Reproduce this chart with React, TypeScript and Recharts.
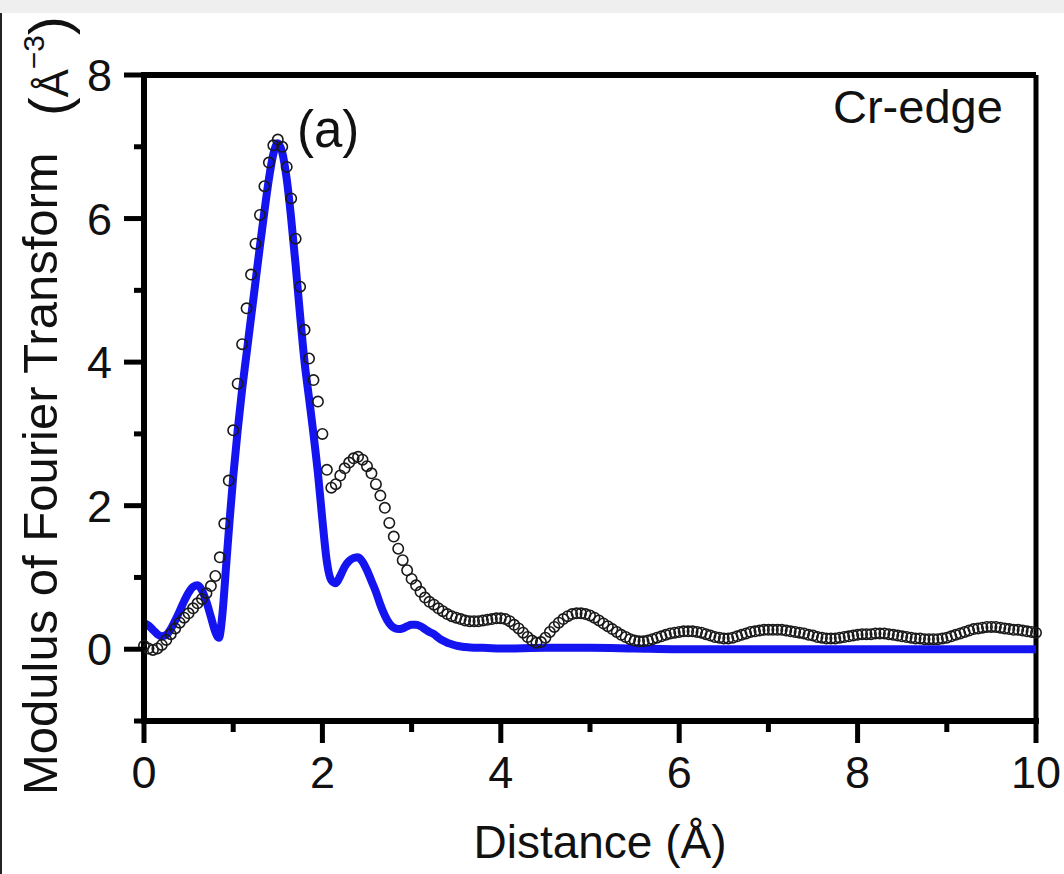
import React from 'react';
import { ComposedChart, Line, XAxis, YAxis, ReferenceLine } from 'recharts';

const FONT = "'Liberation Sans', Arial, Helvetica, sans-serif";

// Experimental |FT| (open circles), sampled every 0.05 Å
const distance = [
  0.0, 0.05, 0.1, 0.15, 0.2, 0.25, 0.3, 0.35, 0.4, 0.45,
  0.5, 0.55, 0.6, 0.65, 0.7, 0.75, 0.8, 0.85, 0.9, 0.95,
  1.0, 1.05, 1.1, 1.15, 1.2, 1.25, 1.3, 1.35, 1.4, 1.45,
  1.5, 1.55, 1.6, 1.65, 1.7, 1.75, 1.8, 1.85, 1.9, 1.95,
  2.0, 2.05, 2.1, 2.15, 2.2, 2.25, 2.3, 2.35, 2.4, 2.45,
  2.5, 2.55, 2.6, 2.65, 2.7, 2.75, 2.8, 2.85, 2.9, 2.95,
  3.0, 3.05, 3.1, 3.15, 3.2, 3.25, 3.3, 3.35, 3.4, 3.45,
  3.5, 3.55, 3.6, 3.65, 3.7, 3.75, 3.8, 3.85, 3.9, 3.95,
  4.0, 4.05, 4.1, 4.15, 4.2, 4.25, 4.3, 4.35, 4.4, 4.45,
  4.5, 4.55, 4.6, 4.65, 4.7, 4.75, 4.8, 4.85, 4.9, 4.95,
  5.0, 5.05, 5.1, 5.15, 5.2, 5.25, 5.3, 5.35, 5.4, 5.45,
  5.5, 5.55, 5.6, 5.65, 5.7, 5.75, 5.8, 5.85, 5.9, 5.95,
  6.0, 6.05, 6.1, 6.15, 6.2, 6.25, 6.3, 6.35, 6.4, 6.45,
  6.5, 6.55, 6.6, 6.65, 6.7, 6.75, 6.8, 6.85, 6.9, 6.95,
  7.0, 7.05, 7.1, 7.15, 7.2, 7.25, 7.3, 7.35, 7.4, 7.45,
  7.5, 7.55, 7.6, 7.65, 7.7, 7.75, 7.8, 7.85, 7.9, 7.95,
  8.0, 8.05, 8.1, 8.15, 8.2, 8.25, 8.3, 8.35, 8.4, 8.45,
  8.5, 8.55, 8.6, 8.65, 8.7, 8.75, 8.8, 8.85, 8.9, 8.95,
  9.0, 9.05, 9.1, 9.15, 9.2, 9.25, 9.3, 9.35, 9.4, 9.45,
  9.5, 9.55, 9.6, 9.65, 9.7, 9.75, 9.8, 9.85, 9.9, 9.95,
  10.0,
];

const experiment = [
  0.05, 0.01, -0.01, 0.01, 0.06, 0.13, 0.21, 0.29, 0.37, 0.44,
  0.5, 0.57, 0.64, 0.7, 0.78, 0.88, 1.02, 1.28, 1.75, 2.35,
  3.05, 3.7, 4.25, 4.75, 5.22, 5.65, 6.05, 6.45, 6.78, 7.02,
  7.1, 7.0, 6.72, 6.28, 5.72, 5.05, 4.45, 4.05, 3.75, 3.45,
  3.0, 2.5, 2.25, 2.3, 2.42, 2.52, 2.6, 2.66, 2.68, 2.64,
  2.55, 2.45, 2.3, 2.14, 1.97, 1.76, 1.57, 1.4, 1.24, 1.1,
  0.98, 0.89, 0.8, 0.72, 0.66, 0.62, 0.57, 0.53, 0.49, 0.46,
  0.44, 0.42, 0.4, 0.39, 0.39, 0.39, 0.4, 0.41, 0.42, 0.43,
  0.43, 0.42, 0.39, 0.34, 0.29, 0.23, 0.17, 0.12, 0.09, 0.1,
  0.16, 0.24, 0.31, 0.37, 0.42, 0.46, 0.49, 0.5, 0.5, 0.49,
  0.47, 0.44, 0.4, 0.36, 0.32, 0.28, 0.24, 0.2, 0.17, 0.14,
  0.12, 0.11, 0.11, 0.12, 0.14, 0.16, 0.18, 0.2, 0.22, 0.23,
  0.24, 0.25, 0.25, 0.25, 0.24, 0.23, 0.21, 0.19, 0.17, 0.16,
  0.15, 0.15, 0.16, 0.18, 0.2, 0.22, 0.24, 0.25, 0.26, 0.27,
  0.27, 0.27, 0.27, 0.27, 0.26, 0.25, 0.24, 0.23, 0.22, 0.2,
  0.19, 0.17, 0.16, 0.15, 0.15, 0.15, 0.16, 0.17, 0.18, 0.19,
  0.2, 0.21, 0.21, 0.21, 0.22, 0.22, 0.22, 0.21, 0.2, 0.19,
  0.18, 0.17, 0.16, 0.15, 0.15, 0.14, 0.14, 0.14, 0.14, 0.15,
  0.16, 0.18, 0.2, 0.22, 0.24, 0.26, 0.28, 0.29, 0.3, 0.31,
  0.31, 0.31, 0.3, 0.29, 0.28, 0.27, 0.27, 0.26, 0.25, 0.24,
  0.23,
];

// Fit (blue line)
const fitDistance = [
  0.0, 0.05, 0.1, 0.15, 0.2, 0.25, 0.3, 0.35, 0.4, 0.45,
  0.5, 0.55, 0.6, 0.65, 0.7, 0.75, 0.8, 0.84, 0.88, 0.92,
  0.96, 1.0, 1.05, 1.1, 1.15, 1.2, 1.25, 1.3, 1.35, 1.4,
  1.45, 1.5, 1.55, 1.6, 1.65, 1.7, 1.75, 1.8, 1.85, 1.9,
  1.95, 2.0, 2.05, 2.1, 2.15, 2.2, 2.25, 2.3, 2.35, 2.4,
  2.45, 2.5, 2.55, 2.6, 2.65, 2.7, 2.75, 2.8, 2.85, 2.9,
  2.95, 3.0, 3.05, 3.1, 3.15, 3.2, 3.25, 3.3, 3.35, 3.4,
  3.45, 3.5, 3.6, 3.7, 3.8, 4.0, 4.5, 5.0, 5.5, 6.0,
  7.0, 8.0, 9.0, 10.0,
];

const fitValues = [
  0.36, 0.33, 0.27, 0.21, 0.18, 0.2, 0.28, 0.4, 0.53, 0.67,
  0.79, 0.87, 0.89, 0.82, 0.66, 0.45, 0.24, 0.16, 0.5, 1.15,
  1.8, 2.4, 3.05, 3.62, 4.12, 4.62, 5.12, 5.62, 6.1, 6.55,
  6.9, 7.05, 6.92, 6.55, 6.0, 5.35, 4.65, 4.0, 3.5, 3.0,
  2.45, 1.8, 1.22, 0.96, 0.92, 1.02, 1.15, 1.23, 1.27, 1.28,
  1.22, 1.1, 0.95, 0.8, 0.62, 0.47, 0.36, 0.3, 0.28, 0.29,
  0.32, 0.34, 0.34, 0.32, 0.28, 0.24, 0.21, 0.16, 0.12, 0.09,
  0.07, 0.05, 0.03, 0.02, 0.02, 0.01, 0.02, 0.02, 0.01, 0.0,
  0.0, 0.0, 0.0, 0.0,
];

const xTicks = [0, 1, 2, 3, 4, 5, 6, 7, 8, 9, 10];
const xLabelTicks = [0, 2, 4, 6, 8, 10];
const yTicks = [-1, 0, 1, 2, 3, 4, 5, 6, 7, 8];
const yLabelTicks = [0, 2, 4, 6, 8];

const expData = distance.map((r, i) => ({ r, exp: experiment[i] }));
const fitData = fitDistance.map((r, i) => ({ r, fit: fitValues[i] }));

const XTick = (props: any) => {
  const { x, y, payload } = props;
  const major = xLabelTicks.includes(payload.value);
  return (
    <g>
      <line x1={x} x2={x} y1={y} y2={y + (major ? 22 : 11)} stroke="#000" strokeWidth={5} />
      {major && (
        <text x={x} y={y + 67} textAnchor="middle" fontSize={45} fontFamily={FONT} fill="#111">
          {payload.value}
        </text>
      )}
    </g>
  );
};

const YTick = (props: any) => {
  const { x, y, payload } = props;
  const major = yLabelTicks.includes(payload.value);
  return (
    <g>
      <line x1={x} x2={x - (major ? 20 : 10)} y1={y} y2={y} stroke="#000" strokeWidth={5} />
      {major && (
        <text x={x - 32} y={y} dy="0.36em" textAnchor="end" fontSize={45} fontFamily={FONT} fill="#111">
          {payload.value}
        </text>
      )}
    </g>
  );
};

export default function App() {
  return (
    <div style={{ position: 'absolute', left: 0, top: 0, width: 1064, height: 874, background: '#fff', overflow: 'hidden' }}>
      <div style={{ position: 'absolute', left: 0, top: 0, width: 1064, height: 13, background: '#efefef' }} />
      <div style={{ position: 'absolute', left: 0, top: 13, width: 2, height: 861, background: '#222' }} />
      <div style={{ position: 'absolute', left: 0, top: 0 }}>
        <ComposedChart width={1064} height={874} margin={{ top: 75, right: 28, bottom: 53, left: 0 }}>
          <XAxis
            dataKey="r"
            type="number"
            domain={[0, 10]}
            ticks={xTicks}
            interval={0}
            tickSize={0}
            tickMargin={0}
            tickLine={false}
            axisLine={{ stroke: '#000', strokeWidth: 6, strokeLinecap: 'square' }}
            tick={(p: any) => <XTick {...p} />}
            height={100}
          />
          <YAxis
            type="number"
            domain={[-1, 8]}
            ticks={yTicks}
            interval={0}
            tickSize={0}
            tickMargin={0}
            tickLine={false}
            axisLine={{ stroke: '#000', strokeWidth: 6, strokeLinecap: 'square' }}
            tick={(p: any) => <YTick {...p} />}
            width={144}
          />
          <ReferenceLine y={8} stroke="#000" strokeWidth={6} />
          <ReferenceLine x={10} stroke="#000" strokeWidth={5} />
          <Line
            data={expData}
            dataKey="exp"
            stroke="none"
            isAnimationActive={false}
            dot={{ r: 5.2, stroke: '#1a1a1a', strokeWidth: 1.6, fill: 'none' }}
            activeDot={false}
          />
          <Line
            data={fitData}
            dataKey="fit"
            type="monotone"
            stroke="#1414f0"
            strokeWidth={8}
            dot={false}
            activeDot={false}
            isAnimationActive={false}
          />
        </ComposedChart>
      </div>
      <svg
        width={1064}
        height={874}
        style={{ position: 'absolute', left: 0, top: 0, pointerEvents: 'none' }}
        fontFamily={FONT}
        fill="#111"
      >
        <text x={297} y={147} fontSize={51}>(a)</text>
        <text x={833} y={123} fontSize={47}>Cr-edge</text>
        <text x={600} y={858} fontSize={46} textAnchor="middle">Distance (Å)</text>
        <text x={57} y={795} fontSize={49} transform="rotate(-90, 57, 795)">
          Modulus of Fourier Transform
        </text>
        <text x={68} y={116} transform="rotate(-90, 68, 116)">
          <tspan fontSize={56}>(</tspan>
          <tspan fontSize={42}>Å</tspan>
          <tspan fontSize={30} dy={-24}>−3</tspan>
          <tspan fontSize={56} dy={24}>)</tspan>
        </text>
      </svg>
    </div>
  );
}
